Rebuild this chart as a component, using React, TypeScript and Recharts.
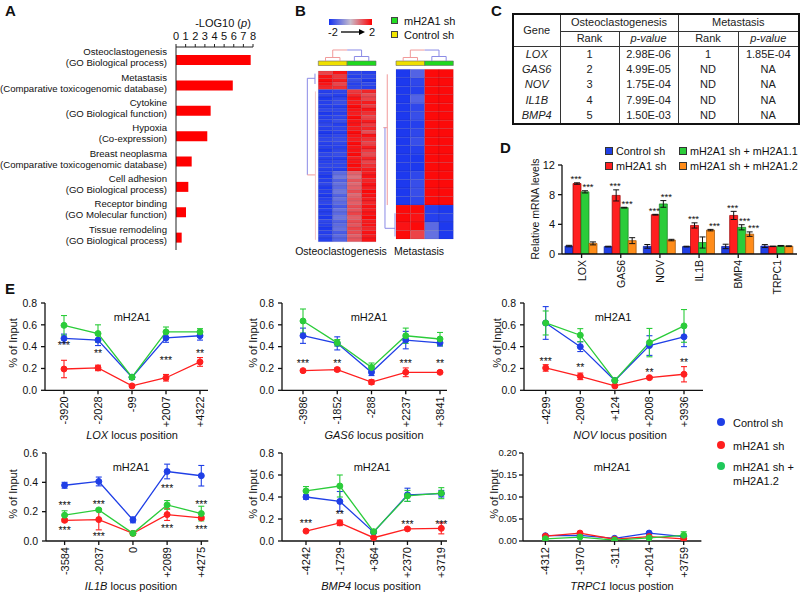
import React from "react";
import {
  BarChart, Bar, XAxis, YAxis, LineChart, Line, ErrorBar, LabelList,
  ScatterChart, Scatter, ReferenceArea, ReferenceLine,
} from "recharts";

const FONT = "Arial, 'Liberation Sans', Helvetica, sans-serif";
const INK = "#111";

// ---------- A: enrichment
const aTerms = ["Osteoclastogenesis", "Metastasis", "Cytokine", "Hypoxia", "Breast neoplasma", "Cell adhesion", "Receptor binding", "Tissue remodeling"];
const aSources = ["(GO Biological process)", "(Comparative toxicogenomic database)", "(GO Biological function)", "(Co-expression)", "(Comparative toxicogenomic database)", "(GO Biological process)", "(GO Molecular function)", "(GO Biological process)"];
const aLogP = [7.76, 5.9, 3.6, 3.25, 1.63, 1.28, 1.04, 0.59];

// ---------- B: heatmaps (z-scores, columns: control sh x2, mH2A1 sh x2)
const osteoCtrlA = [1.3, 1.8, 1.9, 1.8, 1.6, -1.8, -1.7, -1.9, -1.8, -1.8, -1.7, -1.9, -1.8, -1.8, -1.7, -1.8, -1.9, -1.8, -1.7, -1.8, -1.8, -1.9, -1.7, -1.8, -1.8, -1.7, -1.8, -1.8, -1.9, -1.8, -1.7, -1.9, -1.8, -1.9, -1.8, -1.7, -1.9, -1.8, -1.8, -1.9, -1.7, -1.8, -1.9, -1.8, -1.7, -1.8];
const osteoCtrlB = [1.8, 1.4, 1.7, 1.3, 1.5, -1.7, -1.8, -1.7, -1.6, -1.8, -1.7, -1.8, -1.7, -1.6, -1.8, -1.7, -1.8, -1.7, -1.6, -1.7, -1.8, -1.7, -1.6, -1.8, -1.7, -1.7, -1.8, -1.2, -1.0, -1.3, -1.1, -1.2, -1.0, -1.3, -1.1, -1.2, -1.4, -1.1, -1.2, -1.0, -1.3, -1.2, -1.1, -1.4, -1.2, -1.3];
const osteoShA = [-1.7, -1.8, -1.6, -1.8, -1.7, 1.4, 1.6, 1.8, 1.7, 1.9, 1.8, 1.7, 1.9, 1.8, 1.8, 1.7, 1.9, 1.8, 1.7, 1.9, 1.8, 1.8, 1.9, 1.7, 1.8, 1.9, 1.8, 1.0, 0.8, 1.1, 0.9, 1.0, 1.2, 0.9, 1.1, 1.0, 1.2, 1.1, 1.3, 1.0, 1.2, 1.1, 1.3, 1.2, 1.0, 1.1];
const osteoShB = [-1.8, -1.7, -1.9, -1.7, -1.8, 1.6, 1.2, 1.3, 1.7, 1.4, 1.8, 1.5, 1.3, 1.7, 1.4, 1.6, 1.2, 1.8, 1.5, 1.3, 1.7, 1.4, 1.2, 1.6, 1.3, 1.5, 1.7, 1.7, 1.8, 1.6, 1.8, 1.7, 1.9, 1.8, 1.7, 1.6, 1.8, 1.7, 1.8, 1.9, 1.7, 1.8, 1.6, 1.8, 1.7, 1.8];
const metaCtrlA = [-1.9, -1.9, -1.9, -1.9, -1.9, -1.9, -1.9, -1.9, -1.9, -1.9, -1.9, -1.9, -1.9, -1.9, -1.9, -1.9, 1.9, 1.9, 1.8, 1.9];
const metaCtrlB = [-1.3, -1.7, -1.8, -1.3, -1.7, -1.6, -1.8, -1.7, -1.6, -1.8, -1.9, -1.9, -1.7, -1.6, -1.6, -1.7, 1.9, 1.8, 1.9, 1.3];
const metaShA = [1.9, 1.9, 1.9, 1.9, 1.9, 1.9, 1.9, 1.9, 1.9, 1.9, 1.9, 1.9, 1.9, 1.9, 1.9, 1.9, -1.8, -1.8, -1.2, -1.1];
const metaShB = [1.9, 1.9, 1.9, 1.9, 1.9, 1.9, 1.9, 1.9, 1.9, 1.9, 1.9, 1.9, 1.9, 1.9, 1.9, 1.9, -1.9, -1.8, -1.9, -1.9];

// dendrogram links [x1, y1, x2, y2, colour] in cell units
const PINK = "#f19a9a";
const LBLUE = "#8b8be6";
const osteoTree = [
  [0.5, -2.69, 0.5, -3.64, PINK], [0.5, -3.64, 1.5, -3.64, PINK], [1.5, -3.64, 1.5, -2.69, PINK],
  [2.5, -2.69, 2.5, -3.91, LBLUE], [2.5, -3.91, 3.5, -3.91, LBLUE], [3.5, -3.91, 3.5, -2.69, LBLUE],
  [1, -3.64, 1, -5.66, PINK], [1, -5.66, 2, -5.66, PINK], [2, -5.66, 3, -5.66, LBLUE], [3, -5.66, 3, -3.91, LBLUE],
  [-0.76, 1.97, -0.76, 28.0, LBLUE], [-0.76, 1.97, -0.23, 1.97, LBLUE], [-0.23, 0.7, -0.23, 3.5, LBLUE],
  [-0.76, 28.0, -0.23, 28.0, PINK], [-0.2, 5.5, -0.2, 45.5, "#f6c4c4"],
];
const metaTree = [
  [0.5, -0.98, 0.5, -1.39, PINK], [0.5, -1.39, 1.5, -1.39, PINK], [1.5, -1.39, 1.5, -0.98, PINK],
  [2.5, -0.98, 2.5, -1.51, LBLUE], [2.5, -1.51, 3.5, -1.51, LBLUE], [3.5, -1.51, 3.5, -0.98, LBLUE],
  [1, -1.39, 1, -2.27, PINK], [1, -2.27, 2, -2.27, PINK], [2, -2.27, 3, -2.27, LBLUE], [3, -2.27, 3, -1.51, LBLUE],
  [-0.61, 0.59, -0.61, 16.0, PINK], [-0.89, 6.88, -0.61, 6.88, PINK],
  [-0.77, 6.88, -0.77, 18.74, LBLUE], [-0.77, 18.74, -0.07, 18.74, LBLUE], [-0.07, 16.97, -0.07, 19.7, LBLUE],
];

// ---------- C: table
const cGenes = ["LOX", "GAS6", "NOV", "IL1B", "BMP4"];
const cOsteoRank = ["1", "2", "3", "4", "5"];
const cOsteoP = ["2.98E-06", "4.99E-05", "1.75E-04", "7.99E-04", "1.50E-03"];
const cMetaRank = ["1", "ND", "ND", "ND", "ND"];
const cMetaP = ["1.85E-04", "NA", "NA", "NA", "NA"];

// ---------- D: qPCR
const dGenes = ["LOX", "GAS6", "NOV", "IL1B", "BMP4", "TRPC1"];
const dCtrl = [1.07, 1.0, 1.03, 1.0, 1.02, 1.07];
const dCtrlErr = [0.1, 0.05, 0.25, 0.05, 0.3, 0.2];
const dSh = [9.5, 7.9, 5.3, 3.85, 5.2, 1.03];
const dShErr = [0.1, 0.75, 0.05, 0.35, 0.55, 0.03];
const dSh11 = [8.38, 6.25, 6.75, 1.55, 3.6, 1.1];
const dSh11Err = [0.15, 0.05, 0.45, 0.75, 0.35, 0.05];
const dSh12 = [1.43, 1.8, 1.88, 3.22, 2.68, 1.05];
const dSh12Err = [0.2, 0.4, 0.1, 0.1, 0.3, 0.05];
const dShStars = ["***", "***", "***", "***", "***", ""];
const dSh11Stars = ["***", "***", "***", "", "***", ""];
const dSh12Stars = ["", "", "", "***", "***", ""];

// ---------- E: ChIP
const loxPos = ["-3920", "-2028", "-99", "+2007", "+4322"];
const loxCtrl = [0.475, 0.46, 0.12, 0.48, 0.5];
const loxCtrlErr = [0.04, 0.05, 0.02, 0.04, 0.04];
const loxSh = [0.195, 0.205, 0.04, 0.115, 0.26];
const loxShErr = [0.08, 0.025, 0.01, 0.03, 0.04];
const loxResc = [0.595, 0.52, 0.12, 0.535, 0.535];
const loxRescErr = [0.09, 0.08, 0.02, 0.045, 0.03];
const loxStars = ["***", "**", "", "***", "**"];
const loxStarY = [0.43, 0.36, null, 0.3, 0.36];

const gas6Pos = ["-3986", "-1852", "-288", "+2237", "+3841"];
const gas6Ctrl = [0.5, 0.43, 0.165, 0.46, 0.435];
const gas6CtrlErr = [0.07, 0.06, 0.03, 0.08, 0.03];
const gas6Sh = [0.18, 0.19, 0.075, 0.165, 0.165];
const gas6ShErr = [0.01, 0.015, 0.02, 0.04, 0.01];
const gas6Resc = [0.635, 0.435, 0.21, 0.5, 0.47];
const gas6RescErr = [0.11, 0.03, 0.04, 0.07, 0.06];
const gas6Stars = ["***", "**", "", "***", "**"];
const gas6StarY = [0.27, 0.27, null, 0.27, 0.27];

const novPos = ["-4299", "-2009", "+124", "+2008", "+3936"];
const novCtrl = [0.617, 0.4, 0.09, 0.41, 0.49];
const novCtrlErr = [0.15, 0.045, 0.01, 0.09, 0.09];
const novSh = [0.205, 0.128, 0.04, 0.116, 0.147];
const novShErr = [0.03, 0.03, 0.01, 0.01, 0.07];
const novResc = [0.617, 0.505, 0.09, 0.437, 0.59];
const novRescErr = [0.11, 0.06, 0.01, 0.13, 0.15];
const novStars = ["***", "**", "", "**", "**"];
const novStarY = [0.29, 0.23, null, 0.19, 0.28];

const il1bPos = ["-3584", "-2037", "0", "+2089", "+4275"];
const il1bCtrl = [0.38, 0.406, 0.144, 0.474, 0.445];
const il1bCtrlErr = [0.02, 0.03, 0.02, 0.05, 0.07];
const il1bSh = [0.141, 0.146, 0.052, 0.18, 0.157];
const il1bShErr = [0.01, 0.07, 0.01, 0.04, 0.01];
const il1bResc = [0.176, 0.212, 0.052, 0.246, 0.187];
const il1bRescErr = [0.03, 0.01, 0.01, 0.03, 0.05];
const il1bStars = ["***", "***", "", "***", "***"];
const il1bStarY = [0.26, 0.267, null, 0.375, 0.267];
const il1bStarsLow = ["***", "***", "", "***", "***"];
const il1bStarLowY = [0.087, 0.046, null, 0.103, 0.096];

const bmp4Pos = ["-4242", "-1729", "+364", "+2370", "+3719"];
const bmp4Ctrl = [0.4, 0.36, 0.08, 0.42, 0.43];
const bmp4CtrlErr = [0.02, 0.09, 0.01, 0.06, 0.03];
const bmp4Sh = [0.09, 0.165, 0.03, 0.11, 0.115];
const bmp4ShErr = [0.01, 0.025, 0.005, 0.01, 0.05];
const bmp4Resc = [0.455, 0.5, 0.085, 0.41, 0.435];
const bmp4RescErr = [0.04, 0.1, 0.01, 0.05, 0.05];
const bmp4Stars = ["***", "**", "", "***", "***"];
const bmp4StarY = [0.19, 0.27, null, 0.175, 0.175];

const trpc1Pos = ["-4312", "-1970", "-311", "+2014", "+3759"];
const trpc1Ctrl = [0.012, 0.013, 0.006, 0.018, 0.01];
const trpc1CtrlErr = [0.001, 0.001, 0.001, 0.001, 0.001];
const trpc1Sh = [0.011, 0.018, 0.004, 0.01, 0.005];
const trpc1ShErr = [0.001, 0.001, 0.001, 0.001, 0.001];
const trpc1Resc = [0.005, 0.009, 0.002, 0.007, 0.013];
const trpc1RescErr = [0.001, 0.001, 0.001, 0.001, 0.008];

const C_BLUE = "#1f3fe6";
const C_RED = "#ff1f1f";
const C_GREEN = "#2bcc3a";
const C_ORANGE = "#ff8c1a";

function zColor(v: number) {
  const t = Math.max(-2, Math.min(2, v)) / 2;
  const lo = [20, 50, 240], mid = [200, 190, 205], hi = [255, 0, 0];
  const end = t < 0 ? lo : hi;
  const k = Math.abs(t);
  return `rgb(${mid.map((m, i) => Math.round(m + (end[i] - m) * k)).join(",")})`;
}

function Txt({ x, y, size = 11, anchor = "middle", rotate = false, style, children }: any) {
  const tx = anchor === "middle" ? "-50%" : anchor === "end" ? "-100%" : "0";
  return (
    <div style={{ position: "absolute", left: x, top: y, transform: `translate(${tx}, -50%)${rotate ? " rotate(-90deg)" : ""}`, fontSize: size, lineHeight: 1, whiteSpace: "nowrap", ...style }}>
      {children}
    </div>
  );
}

function Letter({ x, y, children }: any) {
  return <div style={{ position: "absolute", left: x, top: y, fontSize: 15, fontWeight: "bold", lineHeight: 1 }}>{children}</div>;
}

function TermTick(props: any) {
  const { x, y, payload } = props;
  const i = aTerms.indexOf(payload.value);
  return (
    <g>
      <text x={x} y={y - 8} textAnchor="end" dominantBaseline="central" fontSize={9.6} fill={INK}>{payload.value}</text>
      <text x={x} y={y + 3} textAnchor="end" dominantBaseline="central" fontSize={9.6} fill={INK}>{aSources[i]}</text>
    </g>
  );
}

function RotTick(props: any) {
  const { x, y, payload, size } = props;
  return (
    <text x={x} y={y} transform={`rotate(-90, ${x}, ${y})`} textAnchor="end" dominantBaseline="central" fontSize={size || 11} fill={INK}>
      {payload.value}
    </text>
  );
}

function PanelA() {
  const data = aTerms.map((t, i) => ({ term: t, v: aLogP[i] }));
  return (
    <div style={{ position: "absolute", left: 0, top: 0 }}>
      <BarChart width={262} height={255} data={data} layout="vertical" margin={{ top: 17, right: 9, bottom: 5, left: 0 }}>
        <XAxis type="number" orientation="top" domain={[0, 8]} ticks={[0, 1, 2, 3, 4, 5, 6, 7, 8]} interval={0} height={30} tickSize={3} tickMargin={4} stroke="#222" tick={{ fontSize: 11, fill: INK }} />
        <YAxis type="category" dataKey="term" width={176} interval={0} tickLine={false} tickSize={0} tickMargin={9} stroke="#222" tick={<TermTick />} />
        <Bar dataKey="v" fill="#ff0000" barSize={10} isAnimationActive={false} />
      </BarChart>
    </div>
  );
}

function Heatmap({ left, top, cols, xDomain, yDomain, annotY, tree }: any) {
  const cells: any[] = [];
  cols.forEach((col: number[], ci: number) =>
    col.forEach((v, ri) =>
      cells.push(
        <ReferenceArea key={`c${ci}-${ri}`} x1={ci} x2={ci + 1} y1={ri} y2={ri + 1} fill={zColor(v)} fillOpacity={1} stroke="rgba(0,0,50,0.18)" strokeWidth={0.5} ifOverflow="visible" />
      )
    )
  );
  return (
    <div style={{ position: "absolute", left, top }}>
      <ScatterChart width={80} height={200} margin={{ top: 0, right: 0, bottom: 0, left: 0 }}>
        <XAxis type="number" dataKey="x" domain={xDomain} hide allowDataOverflow />
        <YAxis type="number" dataKey="y" domain={yDomain} hide reversed allowDataOverflow />
        <Scatter data={[{ x: 0, y: 0 }]} isAnimationActive={false} shape={() => <g />} />
        {cells}
        <ReferenceArea x1={0} x2={2} y1={annotY[0]} y2={annotY[1]} fill="#efe000" fillOpacity={1} stroke="#666" strokeWidth={0.6} ifOverflow="visible" />
        <ReferenceArea x1={2} x2={4} y1={annotY[0]} y2={annotY[1]} fill="#1fd81f" fillOpacity={1} stroke="#666" strokeWidth={0.6} ifOverflow="visible" />
        {tree.map((s: any, i: number) => (
          <ReferenceLine key={`t${i}`} segment={[{ x: s[0], y: s[1] }, { x: s[2], y: s[3] }]} stroke={s[4]} strokeWidth={1} ifOverflow="visible" />
        ))}
      </ScatterChart>
    </div>
  );
}

function PanelB() {
  return (
    <>
      <div style={{ position: "absolute", left: 329, top: 19, width: 43, height: 6, background: "linear-gradient(to right, rgb(20,50,240), rgb(200,190,205), rgb(255,0,0))" }} />
      <Txt x={333} y={32} size={11}>-2</Txt>
      <svg style={{ position: "absolute", left: 340, top: 28 }} width={26} height={8}>
        <line x1={1} y1={4} x2={21} y2={4} stroke="#000" strokeWidth={1.3} />
        <path d="M19,1 L25,4 L19,7 Z" fill="#000" />
      </svg>
      <Txt x={372} y={32} size={11}>2</Txt>
      <div style={{ position: "absolute", left: 391, top: 17, width: 5, height: 5, background: "#22dd22", border: "1px solid #444" }} />
      <Txt x={404} y={20.5} anchor="start" size={11}>mH2A1 sh</Txt>
      <div style={{ position: "absolute", left: 391, top: 31, width: 5, height: 5, background: "#f2e600", border: "1px solid #444" }} />
      <Txt x={404} y={34.5} anchor="start" size={11}>Control sh</Txt>
      <Heatmap left={300} top={45} cols={[osteoCtrlA, osteoCtrlB, osteoShA, osteoShB]} xDomain={[-1.268, 4.276]} yDomain={[-7.006, 46.886]} annotY={[-2.69, -1.48]} tree={osteoTree} />
      <Heatmap left={380} top={45} cols={[metaCtrlA, metaCtrlB, metaShA, metaShB]} xDomain={[-1.117, 4.466]} yDomain={[-2.864, 20.707]} annotY={[-0.98, -0.45]} tree={metaTree} />
      <Txt x={341} y={251} size={10.5}>Osteoclastogenesis</Txt>
      <Txt x={419} y={251} size={10.5}>Metastasis</Txt>
    </>
  );
}

function PanelC() {
  const b = "1px solid #333";
  const cell: any = { padding: 0, borderRight: b, textAlign: "center", verticalAlign: "middle" };
  return (
    <table style={{ position: "absolute", left: 512, top: 13, width: 286, borderCollapse: "collapse", tableLayout: "fixed", border: "2px solid #111", fontSize: 11, lineHeight: 1, color: "#222" }}>
      <colgroup>
        <col style={{ width: 47 }} />
        <col style={{ width: 59 }} />
        <col style={{ width: 59 }} />
        <col style={{ width: 60 }} />
        <col style={{ width: 61 }} />
      </colgroup>
      <tbody>
        <tr style={{ height: 17 }}>
          <td rowSpan={2} style={{ ...cell, borderBottom: b }}>Gene</td>
          <td colSpan={2} style={{ ...cell, borderBottom: b }}>Osteoclastogenesis</td>
          <td colSpan={2} style={{ ...cell, borderBottom: b, borderRight: "none" }}>Metastasis</td>
        </tr>
        <tr style={{ height: 15 }}>
          <td style={{ ...cell, borderBottom: b }}>Rank</td>
          <td style={{ ...cell, borderBottom: b }}><i>p-value</i></td>
          <td style={{ ...cell, borderBottom: b }}>Rank</td>
          <td style={{ ...cell, borderBottom: b, borderRight: "none" }}><i>p-value</i></td>
        </tr>
        {cGenes.map((g, i) => (
          <tr key={g} style={{ height: 15.6 }}>
            <td style={cell}><i>{g}</i></td>
            <td style={cell}>{cOsteoRank[i]}</td>
            <td style={cell}>{cOsteoP[i]}</td>
            <td style={cell}>{cMetaRank[i]}</td>
            <td style={{ ...cell, borderRight: "none" }}>{cMetaP[i]}</td>
          </tr>
        ))}
      </tbody>
    </table>
  );
}

function barStars(values: number[], errs: number[], stars: string[], shift = 0) {
  return (props: any) => {
    const { x, y, width, height, index } = props;
    const s = stars[index];
    if (!s || x == null) return null;
    const errPx = (errs[index] / values[index]) * height;
    return (
      <text x={x + width / 2 + shift} y={y - errPx - 4} textAnchor="middle" dominantBaseline="central" fontSize={9.5} fill={INK}>{s}</text>
    );
  };
}

function Swatch({ x, y, color, label }: any) {
  return (
    <>
      <div style={{ position: "absolute", left: x, top: y - 4, width: 6, height: 6, background: color, border: "1px solid #333" }} />
      <Txt x={x + 11} y={y} anchor="start" size={10.8}>{label}</Txt>
    </>
  );
}

function PanelD() {
  const data = dGenes.map((g, i) => ({
    gene: g, c: dCtrl[i], ce: dCtrlErr[i], s: dSh[i], se: dShErr[i],
    a: dSh11[i], ae: dSh11Err[i], b: dSh12[i], be: dSh12Err[i],
  }));
  const bar = (key: string, errKey: string, fill: string, edge: string, stars?: any) => (
    <Bar dataKey={key} fill={fill} stroke={edge} strokeWidth={0.7} isAnimationActive={false}>
      <ErrorBar dataKey={errKey} width={3} stroke="#111" strokeWidth={1} direction="y" />
      {stars ? <LabelList dataKey={key} content={stars} /> : null}
    </Bar>
  );
  return (
    <>
      <Swatch x={605} y={151} color={C_BLUE} label="Control sh" />
      <Swatch x={679} y={151} color={C_GREEN} label="mH2A1 sh + mH2A1.1" />
      <Swatch x={605} y={166} color={C_RED} label="mH2A1 sh" />
      <Swatch x={679} y={166} color={C_ORANGE} label="mH2A1 sh + mH2A1.2" />
      <Txt x={535} y={209} size={10.5} rotate>Relative mRNA levels</Txt>
      <div style={{ position: "absolute", left: 500, top: 135 }}>
        <BarChart width={300} height={160} data={data} margin={{ top: 30, right: 3, left: 32, bottom: 0 }} barGap={0} barCategoryGap={3}>
          <XAxis dataKey="gene" interval={0} height={41} tickSize={4} stroke="#111" strokeWidth={1.3} tick={<RotTick size={10.5} />} />
          <YAxis domain={[0, 12]} ticks={[0, 4, 8, 12]} width={30} tickSize={4} tickMargin={3} stroke="#111" strokeWidth={1.3} tick={{ fontSize: 11, fill: INK }} allowDataOverflow />
          {bar("c", "ce", C_BLUE, "#0a1a90")}
          {bar("s", "se", C_RED, "#900", barStars(dSh, dShErr, dShStars, -1))}
          {bar("a", "ae", C_GREEN, "#187a20", barStars(dSh11, dSh11Err, dSh11Stars, 3))}
          {bar("b", "be", C_ORANGE, "#a05000", barStars(dSh12, dSh12Err, dSh12Stars, 4))}
        </BarChart>
      </div>
    </>
  );
}

function StarLabel(props: any) {
  const { x, y, value } = props;
  if (!value || y == null || Number.isNaN(y)) return null;
  return <text x={x} y={y + 2.5} textAnchor="middle" dominantBaseline="central" fontSize={10.5} fill={INK}>{value}</text>;
}

function LocusChart(p: any) {
  const data = p.pos.map((pos: string, i: number) => ({
    pos, c: p.ctrl[i], ce: p.ctrlErr[i], s: p.sh[i], se: p.shErr[i], r: p.resc[i], re: p.rescErr[i],
    st: p.stars ? p.stars[i] : "", sy: p.starY ? p.starY[i] : null,
    st2: p.stars2 ? p.stars2[i] : "", sy2: p.starY2 ? p.starY2[i] : null,
  }));
  const w = p.endX - p.axisX + 45 + 4;
  const h = p.plotBottom - p.plotTop + 10 + 45;
  const series = (key: string, errKey: string, color: string) => (
    <Line type="linear" dataKey={key} stroke={color} strokeWidth={1.3} dot={{ r: 3, fill: color, stroke: color, strokeWidth: 1 }} activeDot={false} isAnimationActive={false}>
      <ErrorBar dataKey={errKey} width={3} stroke={color} strokeWidth={1.1} direction="y" />
    </Line>
  );
  return (
    <>
      <div style={{ position: "absolute", left: p.axisX - 45, top: p.plotTop - 10 }}>
        <LineChart width={w} height={h} data={data} margin={{ top: 10, right: 4, bottom: 0, left: 0 }}>
          <XAxis dataKey="pos" scale="point" padding={{ left: p.firstX - p.axisX, right: p.endX - p.lastX }} interval={0} height={45} tickSize={4} stroke="#111" strokeWidth={1.3} tick={<RotTick />} />
          <YAxis type="number" domain={[0, p.yMax]} ticks={p.yTicks} width={45} tickSize={4} tickMargin={p.tickGap ?? 4} stroke="#111" strokeWidth={1.3} tickFormatter={(v: number) => v.toFixed(p.digits)} tick={{ fontSize: p.tickFont ?? 10.5, fill: INK }} allowDataOverflow />
          {series("c", "ce", C_BLUE)}
          {series("s", "se", C_RED)}
          {series("r", "re", C_GREEN)}
          <Line dataKey="sy" stroke="none" dot={false} activeDot={false} isAnimationActive={false}>
            <LabelList dataKey="st" content={StarLabel} />
          </Line>
          <Line dataKey="sy2" stroke="none" dot={false} activeDot={false} isAnimationActive={false}>
            <LabelList dataKey="st2" content={StarLabel} />
          </Line>
        </LineChart>
      </div>
      <Txt x={p.titleX} y={p.titleY} size={11}>mH2A1</Txt>
      <Txt x={p.xLabelX} y={p.xLabelY} size={11}><i>{p.gene}</i> {p.xLabelRest || "locus position"}</Txt>
      <Txt x={p.yLabelX} y={(p.plotTop + p.plotBottom) / 2 - 3} size={11} rotate>% of Input</Txt>
    </>
  );
}

function LegendDot({ x, y, color, children }: any) {
  return (
    <>
      <div style={{ position: "absolute", left: x - 4, top: y - 4, width: 8, height: 8, borderRadius: 4, background: color }} />
      <div style={{ position: "absolute", left: x + 12, top: y - 6, fontSize: 11, lineHeight: "14px", whiteSpace: "nowrap" }}>{children}</div>
    </>
  );
}

function PanelE() {
  const r1 = { plotTop: 302.7, plotBottom: 390, yMax: 0.8, yTicks: [0, 0.2, 0.4, 0.6, 0.8], digits: 1, titleY: 317, xLabelY: 435 };
  const r2 = { plotTop: 452.5, plotBottom: 540.5, titleY: 467, xLabelY: 586 };
  return (
    <>
      <LocusChart {...r1} axisX={45} firstX={64} lastX={200} endX={208} pos={loxPos} ctrl={loxCtrl} ctrlErr={loxCtrlErr} sh={loxSh} shErr={loxShErr} resc={loxResc} rescErr={loxRescErr} stars={loxStars} starY={loxStarY} gene="LOX" titleX={132} xLabelX={132} yLabelX={13} />
      <LocusChart {...r1} axisX={282} firstX={303} lastX={440} endX={447} pos={gas6Pos} ctrl={gas6Ctrl} ctrlErr={gas6CtrlErr} sh={gas6Sh} shErr={gas6ShErr} resc={gas6Resc} rescErr={gas6RescErr} stars={gas6Stars} starY={gas6StarY} gene="GAS6" titleX={369} xLabelX={374} yLabelX={253} />
      <LocusChart {...r1} axisX={524} firstX={545.7} lastX={684} endX={703} pos={novPos} ctrl={novCtrl} ctrlErr={novCtrlErr} sh={novSh} shErr={novShErr} resc={novResc} rescErr={novRescErr} stars={novStars} starY={novStarY} gene="NOV" titleX={613} xLabelX={620} yLabelX={497} />
      <LocusChart {...r2} yMax={0.6} yTicks={[0, 0.2, 0.4, 0.6]} digits={1} axisX={45.7} firstX={64.3} lastX={201} endX={208} pos={il1bPos} ctrl={il1bCtrl} ctrlErr={il1bCtrlErr} sh={il1bSh} shErr={il1bShErr} resc={il1bResc} rescErr={il1bRescErr} stars={il1bStars} starY={il1bStarY} stars2={il1bStarsLow} starY2={il1bStarLowY} gene="IL1B" titleX={131} xLabelX={131} yLabelX={13} />
      <LocusChart {...r2} yMax={0.8} yTicks={[0, 0.2, 0.4, 0.6, 0.8]} digits={1} axisX={281.7} firstX={305.7} lastX={441} endX={446.7} pos={bmp4Pos} ctrl={bmp4Ctrl} ctrlErr={bmp4CtrlErr} sh={bmp4Sh} shErr={bmp4ShErr} resc={bmp4Resc} rescErr={bmp4RescErr} stars={bmp4Stars} starY={bmp4StarY} gene="BMP4" titleX={372} xLabelX={371} yLabelX={253} />
      <LocusChart {...r2} yMax={0.2} yTicks={[0, 0.05, 0.1, 0.15, 0.2]} digits={2} tickFont={9.5} tickGap={2} axisX={523.3} firstX={545.7} lastX={684} endX={701.7} pos={trpc1Pos} ctrl={trpc1Ctrl} ctrlErr={trpc1CtrlErr} sh={trpc1Sh} shErr={trpc1ShErr} resc={trpc1Resc} rescErr={trpc1RescErr} gene="TRPC1" xLabelRest="locus postion" titleX={612} xLabelX={622} yLabelX={494} />
      <LegendDot x={721} y={422} color={C_BLUE}>Control sh</LegendDot>
      <LegendDot x={721} y={445} color={C_RED}>mH2A1 sh</LegendDot>
      <LegendDot x={721} y={466} color="#1fc85a">mH2A1 sh +<br />mH2A1.2</LegendDot>
    </>
  );
}

export default function App() {
  return (
    <div style={{ position: "absolute", left: 0, top: 0, width: 800, height: 593, background: "#fff", fontFamily: FONT, color: INK, overflow: "hidden" }}>
      <Letter x={5} y={3}>A</Letter>
      <Txt x={223} y={23} size={11}>-LOG10 (<i>p</i>)</Txt>
      <PanelA />
      <Letter x={295} y={3}>B</Letter>
      <PanelB />
      <Letter x={491} y={3}>C</Letter>
      <PanelC />
      <Letter x={500} y={140}>D</Letter>
      <PanelD />
      <Letter x={5} y={281}>E</Letter>
      <PanelE />
    </div>
  );
}
